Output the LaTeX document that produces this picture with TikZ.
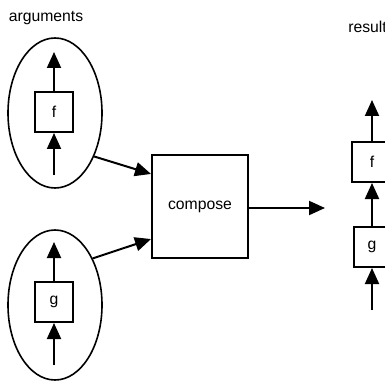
\documentclass[tikz,border=0pt]{standalone}
\usepackage{fontspec}
\setmainfont{Liberation Sans}
\usetikzlibrary{shapes.geometric,arrows.meta,calc}
\begin{document}
\begin{tikzpicture}[x=0.75pt,y=-0.75pt,
  every node/.style={font=\fontsize{11.8}{14}\selectfont, inner sep=0pt},
  fbox/.style={draw, line width=1.5pt, minimum height=30pt},
  oval/.style={ellipse, draw, line width=1.2pt, minimum width=70.5pt, minimum height=112.5pt},
  conn/.style={line width=1.5pt, -{Triangle[width=10.5pt,length=12pt]}}]
\useasboundingbox (0,0) rectangle (385,381);
\node (argl) at (46,18) {arguments};
\node[anchor=west] (resl) at (348,27) {result};
% top ellipse with f
\node[oval] (e1) at (55,113) {};
\node[fbox, minimum width=28.5pt] (f1) at (54,112) {f};
\coordinate (f1top) at (54,52);
\coordinate (f1bot) at (54,175);
\draw[conn] (f1) -- (f1top);
\draw[conn] (f1bot) -- (f1);
% bottom ellipse with g
\node[oval] (e2) at (55,305) {};
\node[fbox, minimum width=28.5pt] (g1) at (54,302) {g};
\coordinate (g1top) at (54,242);
\coordinate (g1bot) at (54,365);
\draw[conn] (g1) -- (g1top);
\draw[conn] (g1bot) -- (g1);
% compose
\node[fbox, minimum width=72pt, minimum height=77.25pt] (c) at (200,206.5) {compose};
\draw[conn] (e1.-48) -- ($(c.north west)!0.19!(c.south west)$);
\draw[conn] (e2.51) -- ($(c.north west)!0.81!(c.south west)$);
\coordinate (cout) at (325,208);
\draw[conn] (c.east |- cout) -- (cout);
% result
\node[fbox, minimum width=30pt] (f2) at (372,162) {f};
\node[fbox, minimum width=27pt] (g2) at (372,247) {g};
\coordinate (f2top) at (372,100);
\coordinate (g2bot) at (372,310);
\draw[conn] (f2) -- (f2top);
\draw[conn] (g2) -- (f2);
\draw[conn] (g2bot) -- (g2);
\end{tikzpicture}
\end{document}
